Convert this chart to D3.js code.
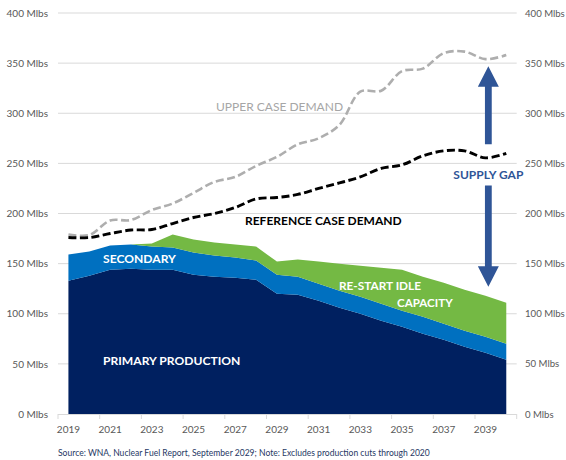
<!DOCTYPE html>
<html>
<head>
<meta charset="utf-8">
<script src="https://cdn.jsdelivr.net/npm/d3@7"></script>
<style>
  html, body { margin: 0; padding: 0; background: #fff; }
  svg { display: block; font-family: Lato, "Open Sans", sans-serif; }
</style>
</head>
<body>
<svg id="chart" width="566" height="460"></svg>
<script>
// ---- data ----
const years = [2019,2020,2021,2022,2023,2024,2025,2026,2027,2028,2029,2030,2031,2032,2033,2034,2035,2036,2037,2038,2039,2040];
const primaryProduction = [133,138,144,145,144,144,139,137,136,134,120,119,113,106,100,93,87,80,74,67,61,54];
const secondary         = [26,24,24,24,23,22,22,21,20,19,19,18,17,17,17,17,16,17,16,16,16,16];
const restartIdle       = [0,0,0,0,3,13,13,13,13,14,13,17,22,27,31,36,41,40,41,41,41,41];
const referenceDemand   = [176,176,180,183.5,184,190,196,200,206,214.5,216,219,225,230.5,236.5,245,248.5,257.5,262.5,262.5,255.5,260];
const upperDemand       = [179,178.5,193,193.5,203.5,210,220.5,231.5,236.5,247.5,256.5,269,275,288.5,321.5,322.5,342,344.5,360,361.5,354,358];
const yTicks = [0,50,100,150,200,250,300,350,400];
const xTickLabels = [2019,2021,2023,2025,2027,2029,2031,2033,2035,2037,2039];
const supplyGap = {year: 2039, top: 347, bottom: 127, textTop: 269, textBottom: 228};

// ---- layout ----
const svg = d3.select("#chart");
const pLeft = 58, pRight = 516.7, pTop = 13, pBottom = 414;

const x = d3.scaleBand().domain(years).range([pLeft, pRight]).padding(0);
const cx = d => x(d) + x.bandwidth() / 2;
const y = d3.scaleLinear().domain([0, 400]).range([pBottom, pTop]);

// gridlines
svg.append("g").selectAll("line")
  .data(yTicks.filter(d => d > 0))
  .join("line")
  .attr("x1", pLeft).attr("x2", pRight)
  .attr("y1", d => y(d)).attr("y2", d => y(d))
  .attr("stroke", "#d9d9d9").attr("stroke-width", 1);

// stacked areas
const table = years.map((yr, i) => ({year: yr, primary: primaryProduction[i], secondary: secondary[i], restart: restartIdle[i]}));
const stack = d3.stack().keys(["primary", "secondary", "restart"]);
const series = stack(table);
const colors = {primary: "#002060", secondary: "#0070c0", restart: "#74b944"};
const area = d3.area()
  .x(d => cx(d.data.year))
  .y0(d => y(d[0]))
  .y1(d => y(d[1]));
svg.append("g").selectAll("path")
  .data(series)
  .join("path")
  .attr("d", area)
  .attr("fill", d => colors[d.key]);

// demand lines
const line = d3.line().x((d, i) => cx(years[i])).y(d => y(d)).curve(d3.curveCatmullRom.alpha(0.5));
svg.append("path").datum(upperDemand)
  .attr("d", line).attr("fill", "none")
  .attr("stroke", "#aeaeae").attr("stroke-width", 2.6)
  .attr("stroke-dasharray", "8,3.5");
svg.append("path").datum(referenceDemand)
  .attr("d", line).attr("fill", "none")
  .attr("stroke", "#000").attr("stroke-width", 2.9)
  .attr("stroke-dasharray", "8,3.5");

// bottom axis
svg.append("line")
  .attr("x1", pLeft).attr("x2", pRight)
  .attr("y1", pBottom + 0.5).attr("y2", pBottom + 0.5)
  .attr("stroke", "#d9d9d9").attr("stroke-width", 1);
const tickPos = xTickLabels.map(d => x(d)).concat([pRight]);
svg.append("g").selectAll("line")
  .data(tickPos)
  .join("line")
  .attr("x1", d => d).attr("x2", d => d)
  .attr("y1", pBottom).attr("y2", pBottom + 5)
  .attr("stroke", "#d9d9d9").attr("stroke-width", 1);

const xAxis = d3.axisBottom(x).tickValues(xTickLabels).tickSize(0).tickPadding(0);
const gx = svg.append("g").attr("transform", `translate(0,${pBottom + 12})`).call(xAxis);
gx.select(".domain").remove();
gx.selectAll("text").attr("fill", "#595959").style("font-size", "10px")
  .style("font-family", "Lato, sans-serif");

// left axis
const yAxisL = d3.axisLeft(y).tickValues(yTicks).tickSize(0).tickPadding(0).tickFormat(d => d + " Mlbs");
const gyl = svg.append("g").attr("transform", `translate(48,0)`).call(yAxisL);
gyl.select(".domain").remove();
gyl.selectAll("text").attr("fill", "#595959").style("font-size", "10px").style("font-family", "Lato, sans-serif");

// right axis
const yAxisR = d3.axisRight(y).tickValues(yTicks).tickSize(0).tickPadding(0).tickFormat(d => d + " Mlbs");
const gyr = svg.append("g").attr("transform", `translate(525,0)`).call(yAxisR);
gyr.select(".domain").remove();
gyr.selectAll("text").attr("fill", "#595959").style("font-size", "9.6px").style("font-family", "Lato, sans-serif");

// supply gap arrow
const ax = x(supplyGap.year) + x.bandwidth() * 0.64;
const arrowColor = "#2f5597";
const headH = 20.5, headW = 21, shaftW = 6.8;
function arrow(tipY, baseY, dir) {
  const headBase = tipY - dir * headH;
  const p = [
    [ax - shaftW/2, baseY],
    [ax - shaftW/2, headBase],
    [ax - headW/2, headBase],
    [ax, tipY],
    [ax + headW/2, headBase],
    [ax + shaftW/2, headBase],
    [ax + shaftW/2, baseY]
  ];
  svg.append("path").attr("d", "M" + p.map(q => q.join(",")).join("L") + "Z").attr("fill", arrowColor);
}
arrow(y(supplyGap.top), y(supplyGap.textTop), -1);
arrow(y(supplyGap.bottom), y(supplyGap.textBottom), 1);

// labels
function label(txt, px, py, opts) {
  svg.append("text").attr("x", px).attr("y", py).text(txt)
    .attr("fill", opts.fill).style("font-size", opts.size + "px")
    .style("font-weight", opts.bold ? 700 : 400)
    .attr("text-anchor", opts.anchor || "start");
}
label("UPPER CASE DEMAND", 216, 110.5, {fill: "#a6a6a6", size: 12});
label("REFERENCE CASE DEMAND", 245, 225, {fill: "#000", size: 12, bold: true});
label("SUPPLY GAP", ax, 178.5, {fill: arrowColor, size: 12, bold: true, anchor: "middle"});
label("SECONDARY", 103, 263, {fill: "#fff", size: 12.1, bold: true});
label("PRIMARY PRODUCTION", 103, 364.5, {fill: "#fff", size: 12.1, bold: true});
label("RE-START IDLE", 339, 290, {fill: "#fff", size: 11.8, bold: true});
label("CAPACITY", 397, 306.5, {fill: "#fff", size: 11.6, bold: true});

// source note
svg.append("text").attr("x", 58).attr("y", 456)
  .text("Source: WNA, Nuclear Fuel Report, September 2029; Note: Excludes production cuts through 2020")
  .attr("fill", "#1f3864").style("font-size", "8.55px");
</script>
</body>
</html>
